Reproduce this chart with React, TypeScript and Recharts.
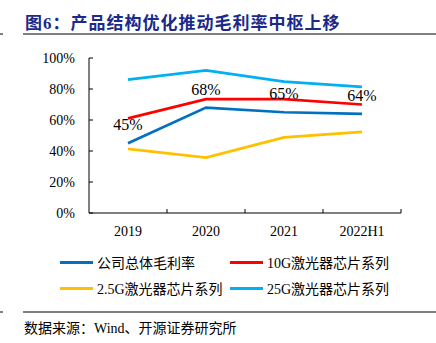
import { LineChart, Line, XAxis, YAxis, LabelList } from 'recharts';

const categories = ['2019', '2020', '2021', '2022H1'];
const companyMargin = [0.45, 0.68, 0.65, 0.64];
const chip10G = [0.61, 0.735, 0.735, 0.7];
const chip2_5G = [0.413, 0.357, 0.488, 0.523];
const chip25G = [0.86, 0.92, 0.847, 0.813];
const yTicks = [0, 0.2, 0.4, 0.6, 0.8, 1];

const SERIES = [
  { key: 'company', name: '公司总体毛利率', color: '#0070C0' },
  { key: 'g10', name: '10G激光器芯片系列', color: '#FF0000' },
  { key: 'g2_5', name: '2.5G激光器芯片系列', color: '#FFC000' },
  { key: 'g25', name: '25G激光器芯片系列', color: '#00B0F0' },
];

const data = categories.map((c, i) => ({
  x: i + 0.5,
  name: c,
  company: companyMargin[i],
  g10: chip10G[i],
  g2_5: chip2_5G[i],
  g25: chip25G[i],
}));

const PLOT_LEFT = 89;
const PLOT_TOP = 58;
const PLOT_RIGHT = 401;
const PLOT_BOTTOM = 213;
const FONT = '"Liberation Serif", "Noto Sans CJK SC", serif';

const pct = (v: number) => `${Math.round(v * 100)}%`;

function XTick(props: any) {
  const { x, payload } = props;
  const v = payload.value as number;
  if (Number.isInteger(v)) {
    return <line x1={x} x2={x} y1={PLOT_BOTTOM} y2={PLOT_BOTTOM - 4} stroke="#000" strokeWidth={1} />;
  }
  return (
    <text x={x} y={PLOT_BOTTOM + 23} textAnchor="middle" fontSize={14} fontFamily={FONT} fill="#000">
      {categories[Math.floor(v)]}
    </text>
  );
}

function YTick(props: any) {
  const { y, payload } = props;
  return (
    <g>
      <line x1={PLOT_LEFT} x2={PLOT_LEFT + 4} y1={y} y2={y} stroke="#000" strokeWidth={1} />
      <text x={PLOT_LEFT - 14} y={y + 5} textAnchor="end" fontSize={14} fontFamily={FONT} fill="#000">
        {pct(payload.value)}
      </text>
    </g>
  );
}

function LegendItem({ name, color }: { name: string; color: string }) {
  return (
    <div style={{ display: 'flex', alignItems: 'center', width: 170 }}>
      <div style={{ width: 33, height: 3, background: color, marginRight: 4 }} />
      <span style={{ fontSize: 14, fontFamily: FONT, color: '#000', whiteSpace: 'nowrap' }}>{name}</span>
    </div>
  );
}

export default function App() {
  return (
    <div style={{ position: 'absolute', left: 0, top: 0, width: 436, height: 343, background: '#fff', overflow: 'hidden' }}>
      <div
        style={{
          position: 'absolute',
          left: 25,
          top: 9,
          fontSize: 17,
          fontWeight: 'bold',
          color: '#1B2A8A',
          fontFamily: FONT,
          letterSpacing: 1,
          whiteSpace: 'nowrap',
        }}
      >
        图6：产品结构优化推动毛利率中枢上移
      </div>
      <div style={{ position: 'absolute', left: 23, top: 33, width: 413, height: 1.5, background: '#7f7f7f' }} />
      <div style={{ position: 'absolute', left: 0, top: 33, width: 3, height: 1.5, background: '#7f7f7f' }} />

      <div style={{ position: 'absolute', left: 0, top: 0 }}>
        <LineChart
          width={436}
          height={343}
          data={data}
          margin={{ top: PLOT_TOP, right: 436 - PLOT_RIGHT, bottom: 100, left: 0 }}
        >
          <XAxis
            type="number"
            dataKey="x"
            domain={[0, 4]}
            ticks={[0.5, 1, 1.5, 2, 2.5, 3, 3.5, 4]}
            interval={0}
            tickLine={false}
            axisLine={{ stroke: '#000', strokeWidth: 1 }}
            tick={<XTick />}
            height={30}
          />
          <YAxis
            type="number"
            domain={[0, 1]}
            ticks={yTicks}
            interval={0}
            tickLine={false}
            axisLine={{ stroke: '#000', strokeWidth: 1 }}
            tick={<YTick />}
            width={PLOT_LEFT}
          />
          {SERIES.map((s) => (
            <Line
              key={s.key}
              type="linear"
              dataKey={s.key}
              name={s.name}
              stroke={s.color}
              strokeWidth={2.75}
              dot={false}
              activeDot={false}
              isAnimationActive={false}
            >
              {s.key === 'company' && (
                <LabelList
                  dataKey="company"
                  position="top"
                  offset={13}
                  formatter={(v: any) => pct(Number(v))}
                  style={{ fontSize: 16, fontFamily: FONT, fill: '#000' }}
                />
              )}
            </Line>
          ))}
        </LineChart>
      </div>

      <div style={{ position: 'absolute', left: 60, top: 252, display: 'flex', flexWrap: 'wrap', width: 340, rowGap: 6 }}>
        {SERIES.map((s) => (
          <LegendItem key={s.key} name={s.name} color={s.color} />
        ))}
      </div>

      <div style={{ position: 'absolute', left: 23, top: 311, width: 413, height: 1.5, background: '#7f7f7f' }} />
      <div style={{ position: 'absolute', left: 0, top: 311, width: 3, height: 1.5, background: '#7f7f7f' }} />
      <div
        style={{
          position: 'absolute',
          left: 24,
          top: 317,
          fontSize: 14,
          fontFamily: FONT,
          color: '#000',
          whiteSpace: 'nowrap',
        }}
      >
        数据来源：Wind、开源证券研究所
      </div>
    </div>
  );
}
